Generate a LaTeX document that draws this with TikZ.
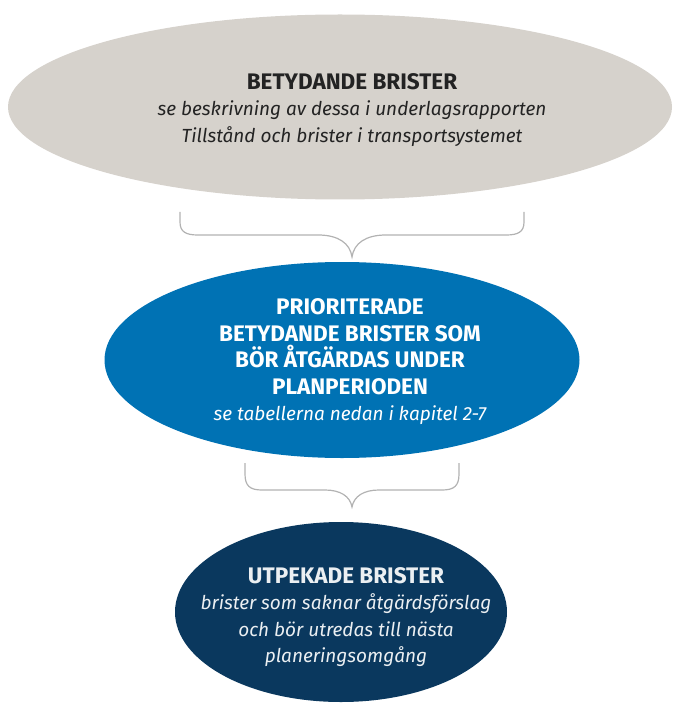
\documentclass[tikz,border=0pt]{standalone}
\usepackage{fontspec}
\setmainfont{Fira Sans}
\usetikzlibrary{shapes.geometric, positioning, calc}
\definecolor{planGray}{RGB}{214, 210, 204}
\definecolor{planBlue}{RGB}{0, 114, 180}
\definecolor{planNavy}{RGB}{10, 56, 94}
\definecolor{planText}{RGB}{35, 35, 35}
\definecolor{planBrace}{RGB}{178, 178, 178}
\newcommand{\headline}[1]{{\fontsize{22.5}{26.5}\selectfont\upshape\bfseries #1}}

\begin{document}
\begin{tikzpicture}[
        x=1pt, y=-1pt,
        blob/.style={ellipse, inner sep=0pt, outer sep=0pt},
        txt/.style={align=center, font=\fontsize{19}{26.5}\selectfont\itshape},
        bracket/.style={draw=planBrace, line width=1.2pt}
    ]
        \useasboundingbox (0,0) rectangle (679,711);

        % Ellipses
        \node[blob, fill=planGray, minimum width=664pt, minimum height=185pt] (top) at (340,107) {};
        \node[blob, fill=planBlue, minimum width=475pt, minimum height=196pt] (mid) at (342,360) {};
        \node[blob, fill=planNavy, minimum width=332pt, minimum height=180pt] (bot) at (341,612) {};

        % Texts
        \node[txt, text=planText] (toptxt) at (352,110) {\headline{BETYDANDE BRISTER}\\
            se beskrivning av dessa i underlagsrapporten\\
            Tillstånd och brister i transportsystemet};
        \node[txt, text=white] (midtxt) at (350,362) {\headline{PRIORITERADE}\\
            \headline{BETYDANDE BRISTER SOM}\\
            \headline{BÖR ÅTGÄRDAS UNDER}\\
            \headline{PLANPERIODEN}\\
            se tabellerna nedan i kapitel 2-7};
        \node[txt, text=white!92!planNavy] (bottxt) at (346,617) {\headline{UTPEKADE BRISTER}\\
            brister som saknar åtgärdsförslag\\
            och bör utredas till nästa\\
            planeringsomgång};

        % Braces
        \coordinate (b1l) at (180,212);
        \coordinate (b1t) at (352,257);
        \coordinate (b1r) at (524,212);
        \draw[bracket] (b1l) -- (180,222) .. controls (180,232) and (186,235) .. (198,235)
            -- (318,235) .. controls (338,235) and (350,243) .. (b1t)
            .. controls (354,243) and (366,235) .. (386,235)
            -- (506,235) .. controls (518,235) and (524,232) .. (524,222) -- (b1r);

        \coordinate (b2l) at (245,463);
        \coordinate (b2t) at (352,507);
        \coordinate (b2r) at (459,463);
        \draw[bracket] (b2l) -- (245,474) .. controls (245,486) and (250,490) .. (262,490)
            -- (325,490) .. controls (340,490) and (350,496) .. (b2t)
            .. controls (354,496) and (364,490) .. (379,490)
            -- (442,490) .. controls (454,490) and (459,486) .. (459,474) -- (b2r);
    \end{tikzpicture}
\end{document}
